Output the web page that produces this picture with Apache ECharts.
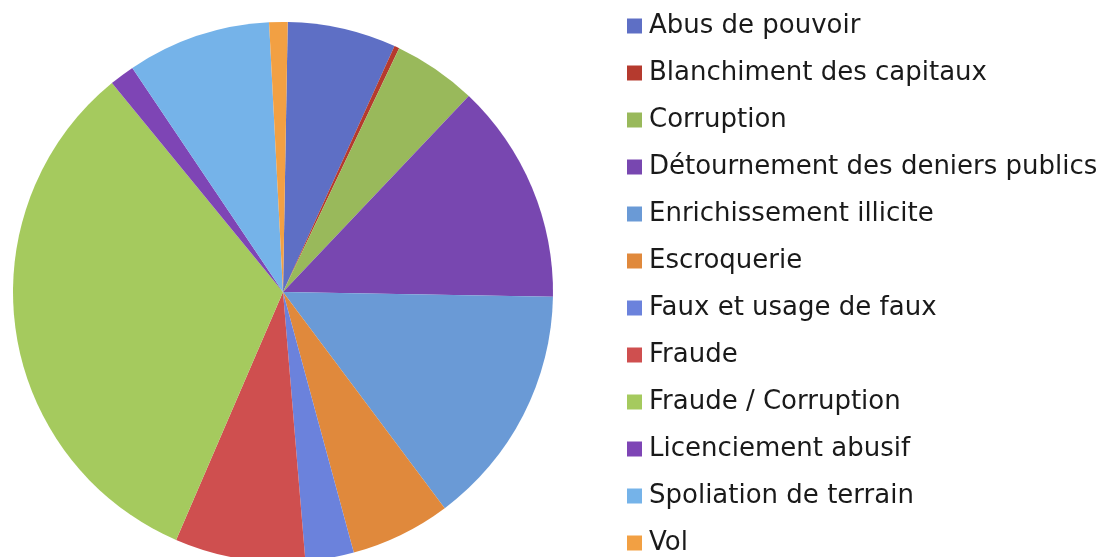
<!DOCTYPE html>
<html><head><meta charset="utf-8">
<script src="https://cdn.jsdelivr.net/npm/echarts@6/dist/echarts.min.js"></script>
<style>html,body{margin:0;padding:0;background:#fff}#c{width:1105px;height:557px}</style>
</head><body><div id="c"></div>
<script>
var categories = ["Abus de pouvoir","Blanchiment des capitaux","Corruption","Détournement des deniers publics","Enrichissement illicite","Escroquerie","Faux et usage de faux","Fraude","Fraude / Corruption","Licenciement abusif","Spoliation de terrain","Vol"];
var values = [6.5, 0.3, 5.0, 13.2, 14.5, 6.0, 2.9, 7.8, 32.6, 1.5, 8.6, 1.1];
var colors = ["#5e6fc5","#b53a2e","#99b95b","#7847b0","#6a9ad6","#e0893c","#6b82dc","#cf4f4f","#a5ca5e","#7e45b5","#75b3e9","#f2a043"];

var chart = echarts.init(document.getElementById('c'), null, {renderer:'canvas'});
chart.setOption({
  animation:false,
  backgroundColor:'#ffffff',
  color: colors,
  legend:{
    orient:'vertical', left:627, top:11, height:600, padding:0,
    icon:'rect', itemWidth:15, itemHeight:15, itemGap:17,
    textStyle:{fontFamily:'DejaVu Sans', fontSize:26, color:'#1a1a1a', lineHeight:30, padding:[0,0,0,2]},
    data: categories
  },
  series:[{
    type:'pie', center:[283,292], radius:270, startAngle:89, clockwise:true,
    label:{show:false}, labelLine:{show:false},
    itemStyle:{borderWidth:0},
    emphasis:{disabled:true},
    data: categories.map(function(n,i){return {name:n, value:values[i]};})
  }]
});
</script></body></html>
